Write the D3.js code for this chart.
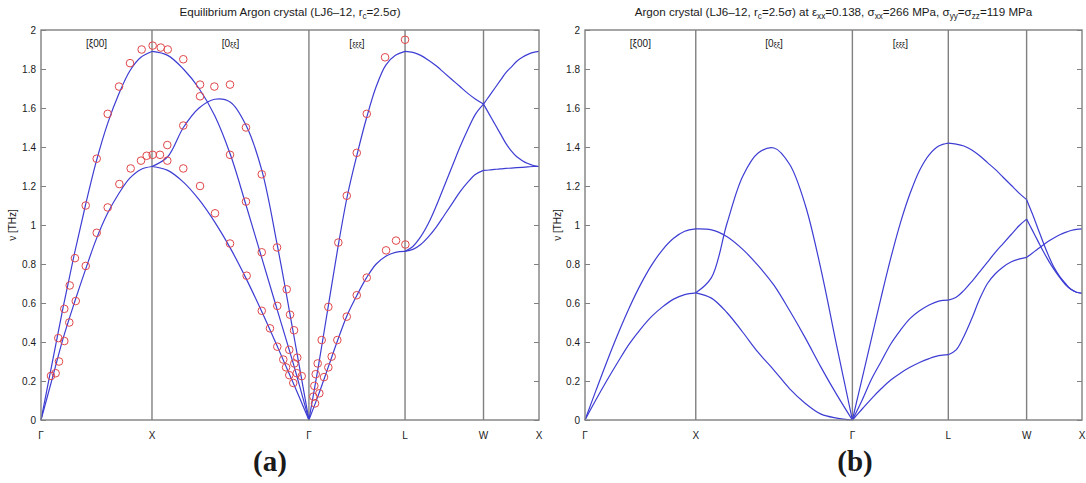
<!DOCTYPE html>
<html><head><meta charset="utf-8">
<script src="https://cdn.jsdelivr.net/npm/d3@7"></script>
<style>
body{margin:0;background:#fff}
svg{display:block}
text{font-family:"Liberation Sans",Arial,sans-serif;fill:#1a1a1a}
</style>
</head><body>
<svg id="c" width="1086" height="483"></svg>
<script>
// ---------- data ----------
// high-symmetry points along the path (units of 2π/a)
const pointLabels = ["Γ", "X", "Γ", "L", "W", "X"];
const segmentK = [0, 1, 2.414, 3.280, 3.987, 4.487];
const directionLabels = ["[ξ00]", "[0ξξ]", "[ξξξ]"];
const yTicks = [0, 0.2, 0.4, 0.6, 0.8, 1, 1.2, 1.4, 1.6, 1.8, 2];
// sample positions along each segment (fraction of segment)
const tGrid = [0, 0.1, 0.2, 0.3, 0.4, 0.5, 0.6, 0.7, 0.8, 0.9, 1];

// (a) equilibrium crystal – dispersion branches, ν [THz]
const eqGX = [
  [0, 0.29, 0.58, 0.85, 1.10, 1.33, 1.52, 1.67, 1.79, 1.86, 1.89],
  [0, 0.21, 0.42, 0.60, 0.77, 0.93, 1.06, 1.16, 1.24, 1.285, 1.30]
];
const eqXG = [
  [1.89, 1.87, 1.80, 1.70, 1.56, 1.36, 1.10, 0.83, 0.56, 0.29, 0],
  [1.30, 1.35, 1.50, 1.60, 1.645, 1.63, 1.51, 1.28, 0.89, 0.45, 0],
  [1.30, 1.28, 1.22, 1.13, 1.015, 0.88, 0.725, 0.555, 0.375, 0.19, 0]
];
const eqGL = [
  [0, 0.28, 0.58, 0.88, 1.15, 1.36, 1.55, 1.71, 1.82, 1.87, 1.89],
  [0, 0.13, 0.27, 0.41, 0.54, 0.64, 0.73, 0.80, 0.84, 0.86, 0.865]
];
const eqLW = [
  [1.89, 1.885, 1.87, 1.845, 1.815, 1.78, 1.745, 1.71, 1.675, 1.645, 1.62],
  [0.865, 0.89, 0.94, 1.01, 1.10, 1.20, 1.30, 1.40, 1.49, 1.57, 1.62],
  [0.865, 0.875, 0.90, 0.94, 0.99, 1.05, 1.11, 1.17, 1.22, 1.26, 1.28]
];
const eqWX = [
  [1.62, 1.66, 1.70, 1.74, 1.78, 1.81, 1.84, 1.86, 1.875, 1.885, 1.89],
  [1.62, 1.57, 1.52, 1.47, 1.42, 1.38, 1.35, 1.33, 1.315, 1.305, 1.30],
  [1.28, 1.282, 1.285, 1.288, 1.29, 1.292, 1.294, 1.296, 1.298, 1.30, 1.30]
];
// (a) measured points [k, ν]
const eqMeasured = [
  [0.090,0.226],[0.132,0.24],[0.162,0.30],[0.156,0.42],[0.210,0.405],[0.210,0.57],
  [0.255,0.50],[0.259,0.69],[0.313,0.61],[0.306,0.83],[0.403,0.79],[0.403,1.10],
  [0.502,0.96],[0.502,1.34],[0.601,1.09],[0.601,1.57],[0.706,1.21],[0.703,1.71],
  [0.808,1.29],[0.802,1.83],[0.901,1.33],[0.907,1.90],[0.952,1.355],[1.006,1.36],
  [1.006,1.92],[1.072,1.36],[1.079,1.91],[1.138,1.41],[1.138,1.33],[1.142,1.90],
  [1.282,1.85],[1.282,1.51],[1.282,1.29],[1.433,1.72],[1.433,1.66],[1.433,1.20],
  [1.562,1.71],[1.568,1.06],[1.703,1.72],[1.703,1.36],[1.703,0.905],[1.847,1.50],
  [1.847,1.12],[1.853,0.74],[1.989,1.26],[1.989,0.86],[1.989,0.56],[2.063,0.47],
  [2.127,0.885],[2.129,0.585],[2.129,0.376],[2.183,0.31],[2.208,0.27],[2.214,0.67],
  [2.237,0.23],[2.237,0.36],[2.244,0.54],[2.273,0.19],[2.280,0.46],[2.282,0.29],
  [2.304,0.24],[2.309,0.32],[2.349,0.225],
  [2.454,0.12],[2.469,0.085],[2.463,0.175],[2.475,0.235],[2.493,0.29],[2.508,0.137],
  [2.529,0.41],[2.550,0.22],[2.589,0.58],[2.589,0.27],[2.619,0.325],[2.670,0.41],
  [2.679,0.91],[2.755,0.53],[2.755,1.15],[2.845,0.64],[2.845,1.37],[2.935,0.73],
  [2.935,1.57],[3.100,1.86],[3.109,0.87],[3.199,0.92],[3.283,0.90],[3.280,1.95]
];

// (b) strained crystal – dispersion branches, ν [THz]
const stGX = [
  [0, 0.153, 0.303, 0.445, 0.576, 0.693, 0.793, 0.873, 0.932, 0.968, 0.98],
  [0, 0.105, 0.205, 0.30, 0.39, 0.465, 0.53, 0.58, 0.62, 0.643, 0.652]
];
const stXG = [
  [0.652, 0.73, 1.01, 1.25, 1.37, 1.395, 1.31, 1.10, 0.77, 0.38, 0],
  [0.98, 0.975, 0.94, 0.875, 0.79, 0.69, 0.56, 0.42, 0.27, 0.13, 0],
  [0.652, 0.625, 0.55, 0.45, 0.345, 0.255, 0.16, 0.085, 0.03, 0.01, 0]
];
const stGL = [
  [0, 0.21, 0.42, 0.63, 0.83, 1.01, 1.16, 1.28, 1.36, 1.405, 1.42],
  [0, 0.10, 0.21, 0.30, 0.39, 0.46, 0.52, 0.56, 0.59, 0.61, 0.615],
  [0, 0.055, 0.11, 0.16, 0.205, 0.24, 0.27, 0.295, 0.315, 0.33, 0.335]
];
const stLW = [
  [1.42, 1.415, 1.405, 1.385, 1.355, 1.32, 1.285, 1.245, 1.205, 1.165, 1.13],
  [0.615, 0.63, 0.665, 0.71, 0.76, 0.81, 0.86, 0.905, 0.95, 0.995, 1.03],
  [0.335, 0.36, 0.43, 0.52, 0.62, 0.70, 0.75, 0.785, 0.81, 0.825, 0.834]
];
const stWX = [
  [1.13, 1.06, 0.985, 0.91, 0.84, 0.78, 0.735, 0.70, 0.67, 0.655, 0.65],
  [1.03, 0.975, 0.92, 0.865, 0.815, 0.77, 0.73, 0.695, 0.67, 0.655, 0.65],
  [0.834, 0.855, 0.877, 0.898, 0.918, 0.935, 0.95, 0.962, 0.972, 0.978, 0.98]
];

// titles: pieces [text, subscript?]
const titleA = [["Equilibrium Argon crystal (LJ6–12, r",0],["c",1],["=2.5σ)",0]];
const titleB = [["Argon crystal (LJ6–12, r",0],["c",1],["=2.5σ) at ε",0],["xx",1],["=0.138, σ",0],["xx",1],
  ["=266 MPa, σ",0],["yy",1],["=σ",0],["zz",1],["=119 MPa",0]];

// ---------- drawing ----------
const svg = d3.select("#c");
const plotTop = 30, plotBottom = 420;
const lineColor = "#3d3dd4", gridColor = "#808080", markColor = "#e0474a";

const panels = [
  {left: 41, right: 539, title: titleA, segs: [eqGX, eqXG, eqGL, eqLW, eqWX], measured: eqMeasured, sub: "(a)", subX: 270, ylabX: 16},
  {left: 585, right: 1082, title: titleB, segs: [stGX, stXG, stGL, stLW, stWX], measured: [], sub: "(b)", subX: 855, ylabX: 561}
];

panels.forEach(p => {
  const x = d3.scaleLinear().domain([0, segmentK[segmentK.length - 1]]).range([p.left, p.right]);
  const y = d3.scaleLinear().domain([0, 2]).range([plotBottom, plotTop]);
  const g = svg.append("g");

  // vertical symmetry lines
  segmentK.slice(1, -1).forEach(k => {
    g.append("line").attr("x1", x(k)).attr("x2", x(k)).attr("y1", plotTop).attr("y2", plotBottom)
      .attr("stroke", gridColor).attr("stroke-width", 1.4);
  });

  // dispersion curves
  const line = d3.line().x(d => x(d[0])).y(d => y(d[1])).curve(d3.curveCatmullRom.alpha(0.5));
  p.segs.forEach((seg, i) => {
    const k0 = segmentK[i], k1 = segmentK[i + 1];
    seg.forEach(branch => {
      const pts = branch.map((v, j) => [k0 + (k1 - k0) * tGrid[j], v]);
      g.append("path").attr("d", line(pts)).attr("fill", "none")
        .attr("stroke", lineColor).attr("stroke-width", 1.2);
    });
  });

  // measured points
  g.selectAll("circle.m").data(p.measured).join("circle").attr("class", "m")
    .attr("cx", d => x(d[0])).attr("cy", d => y(d[1])).attr("r", 3.8)
    .attr("fill", "none").attr("stroke", markColor).attr("stroke-width", 1);

  // axes frame
  g.append("rect").attr("x", p.left).attr("y", plotTop).attr("width", p.right - p.left)
    .attr("height", plotBottom - plotTop).attr("fill", "none").attr("stroke", gridColor).attr("stroke-width", 1.4);

  // y axes (ticks inside)
  const fmt = d => String(+d.toFixed(1));
  const ya = g.append("g").attr("transform", `translate(${p.left},0)`)
    .call(d3.axisLeft(y).tickValues(yTicks).tickFormat(fmt).tickSize(-5).tickPadding(5));
  ya.select(".domain").remove();
  ya.selectAll("line").attr("stroke", gridColor);
  ya.selectAll("text").attr("font-size", 10).attr("font-family", "Liberation Sans, Arial, sans-serif").attr("fill", "#1a1a1a");
  const yr = g.append("g").attr("transform", `translate(${p.right},0)`)
    .call(d3.axisRight(y).tickValues(yTicks).tickFormat("").tickSize(-5));
  yr.select(".domain").remove();
  yr.selectAll("line").attr("stroke", gridColor);

  // x labels
  pointLabels.forEach((lab, i) => {
    g.append("text").attr("x", x(segmentK[i])).attr("y", 439).attr("text-anchor", "middle")
      .attr("font-size", 10).text(lab);
  });

  // direction labels
  directionLabels.forEach((lab, i) => {
    const t = g.append("text").attr("x", x((segmentK[i] + segmentK[i + 1]) / 2)).attr("y", 47)
      .attr("text-anchor", "middle").attr("font-size", 10);
    if (i === 0) { t.text(lab); }
    else {
      const inner = lab.slice(1, -1);
      t.append("tspan").text("[");
      [...inner].forEach(ch => {
        if (ch === "ξ") t.append("tspan").attr("font-size", 7.5).text(ch);
        else t.append("tspan").text(ch);
      });
      t.append("tspan").text("]");
    }
  });

  // y label
  g.append("text").attr("transform", `translate(${p.ylabX},${225}) rotate(-90)`)
    .attr("text-anchor", "middle").attr("font-size", 10).text("ν [THz]");

  // title
  const tt = g.append("text").attr("x", (p.left + p.right) / 2).attr("y", 16)
    .attr("text-anchor", "middle").attr("font-size", 11.6);
  let prevSub = 0;
  p.title.forEach(([s, sub]) => {
    const sp = tt.append("tspan").text(s);
    if (sub) sp.attr("font-size", 8.2);
    const dy = (sub ? 3 : 0) - (prevSub ? 3 : 0);
    if (dy) sp.attr("dy", dy);
    prevSub = sub;
  });

  // panel label
  svg.append("text").attr("x", p.subX).attr("y", 471).attr("text-anchor", "middle")
    .attr("font-size", 29).attr("font-weight", "bold")
    .style("font-family", "'Liberation Serif','Times New Roman',serif").text(p.sub);
});
</script>
</body></html>
